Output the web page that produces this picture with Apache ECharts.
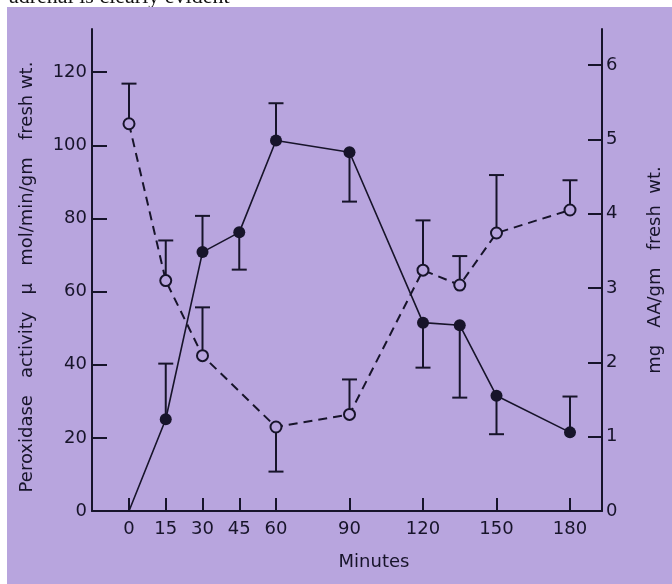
<!DOCTYPE html>
<html><head><meta charset="utf-8">
<script src="https://cdn.jsdelivr.net/npm/echarts@6/dist/echarts.min.js"></script>
<style>html,body{margin:0;padding:0;background:#fff}#c{width:672px;height:584px}</style>
</head><body><div id="c"></div>
<script>
// ---- data ----
const minutes = [0, 15, 30, 45, 60, 90, 120, 135, 150, 180];
const peroxidase = [0, 25.1, 70.8, 76.2, 101.3, 98.1, 51.5, 50.8, 31.5, 21.5];
const peroxidaseErrEnd = [null, 40.3, 80.7, 66.0, 111.5, 84.6, 39.2, 31.0, 21.0, 31.3];
const aaMinutes = [0, 15, 30, 60, 90, 120, 135, 150, 180];
const ascorbicAcid = [5.21, 3.10, 2.09, 1.13, 1.30, 3.24, 3.04, 3.74, 4.05];
const ascorbicAcidErrEnd = [5.75, 3.64, 2.74, 0.53, 1.77, 3.91, 3.43, 4.52, 4.45];
const xTicks = [0, 15, 30, 45, 60, 90, 120, 150, 180];
const leftTicks = [0, 20, 40, 60, 80, 100, 120];
const rightTicks = [0, 1, 2, 3, 4, 5, 6];
const topText = 'adrenal is clearly evident';
const xName = 'Minutes';
const leftName = 'Peroxidase   activity   \u03bc   mol/min/gm   fresh wt.';
const rightName = 'mg   AA/gm   fresh  wt.';

// ---- styling ----
const ink = '#17142a';
const bg = '#b8a5de';
const font = 'DejaVu Sans';
const LEFT_MAX = 131.8, RIGHT_MAX = 6.485;

function errRender(params, api) {
  const x = api.value(0), y = api.value(1), e = api.value(2);
  const p0 = api.coord([x, y]), p1 = api.coord([x, e]);
  const half = 7.5;
  return { type: 'group', children: [
    { type: 'line', shape: { x1: p0[0], y1: p0[1], x2: p1[0], y2: p1[1] }, style: { stroke: ink, lineWidth: 2 } },
    { type: 'line', shape: { x1: p1[0] - half, y1: p1[1], x2: p1[0] + half, y2: p1[1] }, style: { stroke: ink, lineWidth: 2 } }
  ]};
}

const peroxLine = minutes.map((m, i) => i === 0 ? { value: [m, peroxidase[i]], symbol: 'none' } : [m, peroxidase[i]]);
const peroxErr = minutes.map((m, i) => [m, peroxidase[i], peroxidaseErrEnd[i]]).filter(d => d[2] !== null);
const aaLine = aaMinutes.map((m, i) => [m, ascorbicAcid[i]]);
const aaErr = aaMinutes.map((m, i) => [m, ascorbicAcid[i], ascorbicAcidErrEnd[i]]);

const chart = echarts.init(document.getElementById('c'), null, { renderer: 'canvas' });
chart.setOption({
  backgroundColor: '#ffffff',
  animation: false,
  textStyle: { fontFamily: font, color: ink },
  graphic: [
    { type: 'text', z: -20, x: 9, y: 8, style: { text: topText, font: '22px "Liberation Serif"', fill: '#111', verticalAlign: 'bottom', textVerticalAlign: 'bottom' } },
    { type: 'rect', z: -10, shape: { x: 7, y: 7, width: 665, height: 577 }, style: { fill: bg } }
  ],
  grid: [
    { left: 92, right: 68, top: 29, bottom: 73 },
    { left: 129, right: 102, top: 29, bottom: 73 }
  ],
  xAxis: [
    { gridIndex: 0, type: 'value', position: 'top', min: 0, max: 1,
      axisLine: { show: true, lineStyle: { color: ink, width: 2 } },
      axisTick: { show: false }, axisLabel: { show: false }, splitLine: { show: false } },
    { gridIndex: 1, type: 'value', position: 'bottom', min: 0, max: 180,
      axisLine: { show: true, lineStyle: { color: ink, width: 2 } },
      axisTick: { show: true, inside: true, length: 13, customValues: xTicks, lineStyle: { color: ink, width: 2 } },
      axisLabel: { customValues: xTicks, margin: 9, fontSize: 18, color: ink, fontFamily: font },
      splitLine: { show: false },
      name: xName, nameLocation: 'middle', nameGap: 42,
      nameTextStyle: { fontSize: 18, color: ink, fontFamily: font, padding: [0, 0, 0, 49] } }
  ],
  yAxis: [
    { gridIndex: 0, type: 'value', position: 'left', min: 0, max: LEFT_MAX,
      axisLine: { show: true, lineStyle: { color: ink, width: 2 } },
      axisTick: { show: true, inside: true, length: 15, customValues: leftTicks, lineStyle: { color: ink, width: 2 } },
      axisLabel: { customValues: leftTicks, margin: 5, fontSize: 18, color: ink, fontFamily: font },
      splitLine: { show: false },
      name: leftName, nameLocation: 'middle', nameRotate: 90, nameGap: 56,
      nameTextStyle: { fontSize: 18, color: ink, fontFamily: font, padding: [0, 14, 0, 0] } },
    { gridIndex: 0, type: 'value', position: 'right', min: 0, max: RIGHT_MAX,
      axisLine: { show: true, lineStyle: { color: ink, width: 2 } },
      axisTick: { show: true, inside: true, length: 14, customValues: rightTicks, lineStyle: { color: ink, width: 2 } },
      axisLabel: { customValues: rightTicks, margin: 4, fontSize: 18, color: ink, fontFamily: font },
      splitLine: { show: false },
      name: rightName, nameLocation: 'middle', nameRotate: 90, nameGap: 44,
      nameTextStyle: { fontSize: 18, color: ink, fontFamily: font } },
    { gridIndex: 1, type: 'value', min: 0, max: LEFT_MAX, show: false, splitLine: { show: false } },
    { gridIndex: 1, type: 'value', min: 0, max: RIGHT_MAX, show: false, splitLine: { show: false } }
  ],
  series: [
    { type: 'custom', xAxisIndex: 1, yAxisIndex: 2, z: 1, renderItem: errRender, data: peroxErr, clip: false },
    { type: 'custom', xAxisIndex: 1, yAxisIndex: 3, z: 1, renderItem: errRender, data: aaErr, clip: false },
    { type: 'line', name: 'Peroxidase', xAxisIndex: 1, yAxisIndex: 2, data: peroxLine, clip: false,
      symbol: 'circle', symbolSize: 12, z: 3,
      lineStyle: { color: ink, width: 1.6 }, itemStyle: { color: ink } },
    { type: 'line', name: 'AA', xAxisIndex: 1, yAxisIndex: 3, data: aaLine, clip: false,
      symbol: 'circle', symbolSize: 11, z: 4,
      lineStyle: { color: ink, width: 2, type: [9, 6] },
      itemStyle: { color: bg, borderColor: ink, borderWidth: 2 } }
  ]
});
</script></body></html>
